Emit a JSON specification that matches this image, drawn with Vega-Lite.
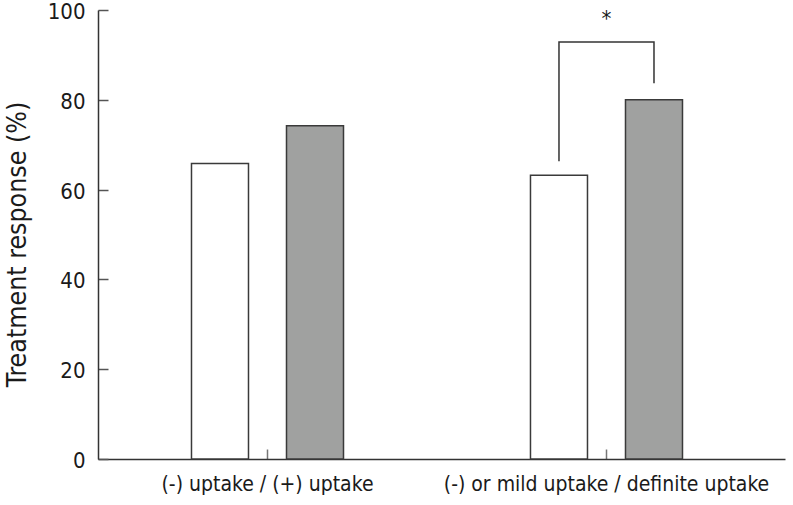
{
  "$schema": "https://vega.github.io/schema/vega-lite/v6.json",
  "autosize": "none",
  "width": 687,
  "height": 449,
  "padding": {"left": 98, "top": 10, "right": 8, "bottom": 46},
  "background": "white",
  "config": {
    "view": {"stroke": null},
    "font": "DejaVu Sans Condensed, Liberation Sans, sans-serif",
    "axis": {"grid": false, "labelFont": "DejaVu Sans Condensed, Liberation Sans, sans-serif", "titleFont": "DejaVu Sans Condensed, Liberation Sans, sans-serif"}
  },
  "datasets": {
    "bars": [
      {"group": "(-) uptake / (+) uptake", "cond": "negative", "value": 65.8},
      {"group": "(-) uptake / (+) uptake", "cond": "positive", "value": 74.2},
      {"group": "(-) or mild uptake / definite uptake", "cond": "negative", "value": 63.2},
      {"group": "(-) or mild uptake / definite uptake", "cond": "positive", "value": 80.0}
    ],
    "bracket": [
      {"group": "(-) or mild uptake / definite uptake", "cond": "negative", "y": 66.3, "k": 1},
      {"group": "(-) or mild uptake / definite uptake", "cond": "negative", "y": 92.9, "k": 2},
      {"group": "(-) or mild uptake / definite uptake", "cond": "positive", "y": 92.9, "k": 3},
      {"group": "(-) or mild uptake / definite uptake", "cond": "positive", "y": 83.7, "k": 4}
    ],
    "star": [
      {"group": "(-) or mild uptake / definite uptake", "y": 96.4, "label": "*"}
    ]
  },
  "encoding": {
    "x": {
      "field": "group", "type": "nominal",
      "sort": ["(-) uptake / (+) uptake", "(-) or mild uptake / definite uptake"],
      "scale": {"paddingInner": 0, "paddingOuter": 0.0133, "align": 0},
      "axis": {
        "title": null, "labelAngle": 0, "labelFontSize": 21, "labelColor": "#1a1a1a", "labelLimit": 0,
        "labelPadding": 24, "domainColor": "#333333", "domainWidth": 1.5,
        "tickSize": -10, "tickColor": "#777777", "tickWidth": 1.5
      }
    }
  },
  "layer": [
    {
      "data": {"name": "bars"},
      "mark": {"type": "bar", "stroke": "#3a3a3a", "strokeWidth": 1.5},
      "encoding": {
        "xOffset": {"field": "cond", "type": "nominal", "scale": {"paddingInner": 0.4, "paddingOuter": 0.984}},
        "y": {
          "field": "value", "type": "quantitative",
          "scale": {"domain": [0, 100]},
          "axis": {
            "title": "Treatment response (%)", "titleFontSize": 26.5, "titleFontWeight": "normal",
            "titleColor": "#1a1a1a", "titlePadding": 16, "titleY": 234,
            "values": [0, 20, 40, 60, 80, 100], "labelFontSize": 22, "labelColor": "#1a1a1a",
            "labelPadding": 23, "labelOffset": 1.5, "domainColor": "#333333", "domainWidth": 1.5,
            "tickSize": -10, "tickColor": "#555555", "tickWidth": 1.5
          }
        },
        "fill": {
          "field": "cond", "type": "nominal",
          "scale": {"domain": ["negative", "positive"], "range": ["#ffffff", "#a0a1a0"]},
          "legend": null
        }
      }
    },
    {
      "data": {"name": "bracket"},
      "mark": {"type": "line", "color": "#333333", "strokeWidth": 1.5, "interpolate": "linear"},
      "encoding": {
        "xOffset": {"field": "cond", "type": "nominal", "scale": {"paddingInner": 0.4, "paddingOuter": 0.984}},
        "y": {"field": "y", "type": "quantitative"},
        "order": {"field": "k", "type": "quantitative"}
      }
    },
    {
      "data": {"name": "star"},
      "mark": {"type": "text", "fontSize": 22, "color": "#1a1a1a", "baseline": "alphabetic"},
      "encoding": {
        "y": {"field": "y", "type": "quantitative"},
        "text": {"field": "label"}
      }
    }
  ]
}
